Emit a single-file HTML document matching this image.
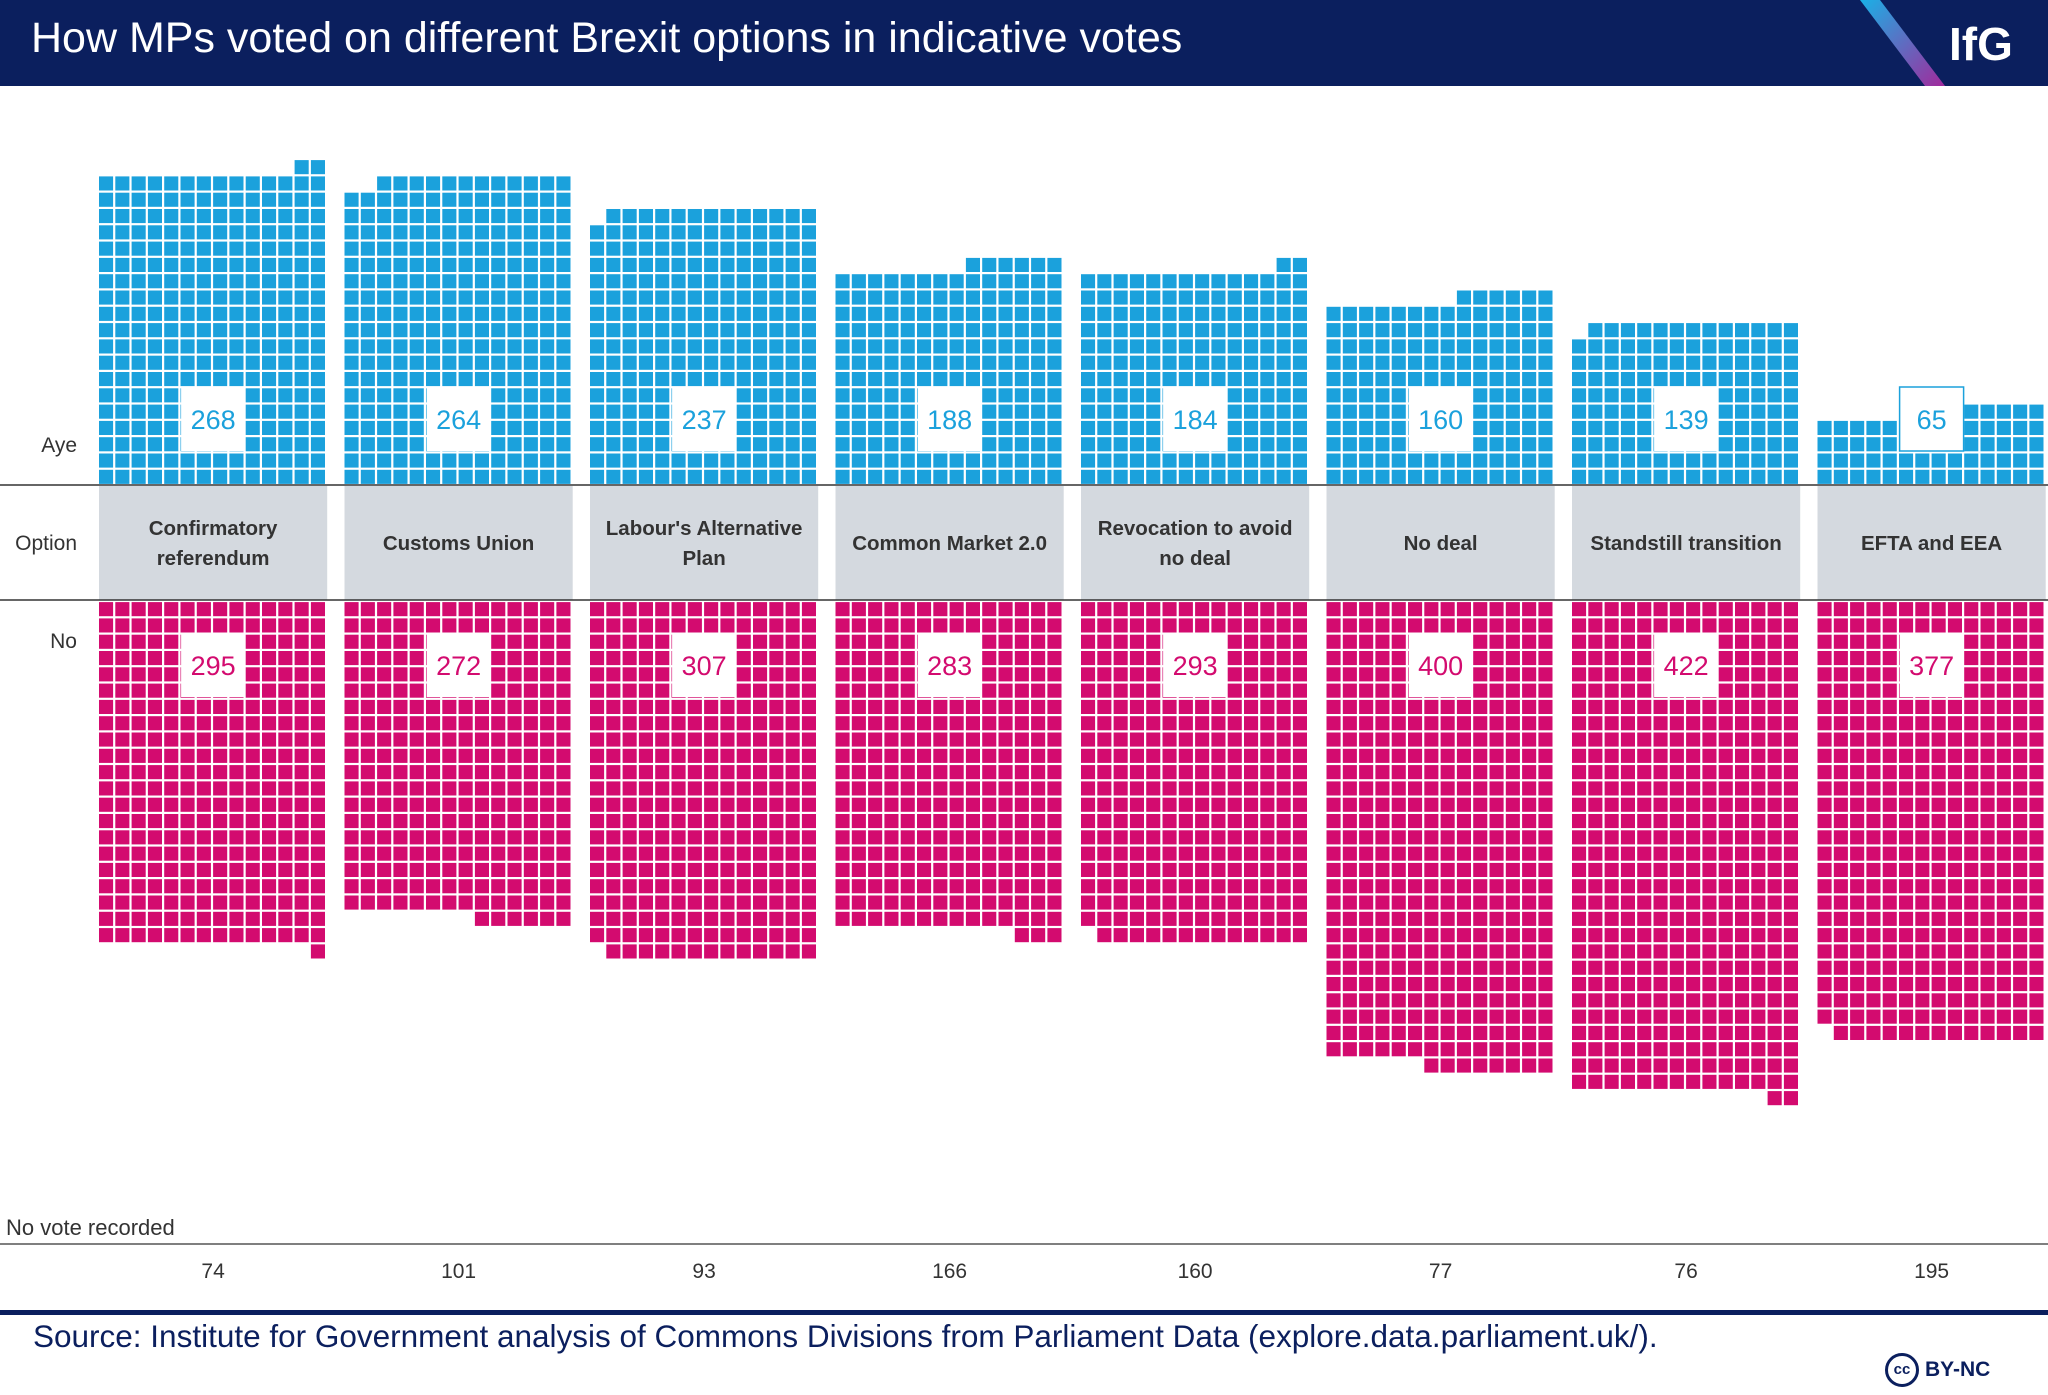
<!DOCTYPE html>
<html><head><meta charset="utf-8"><style>
body{margin:0;width:2048px;height:1395px;background:#fff;overflow:hidden;font-family:"Liberation Sans",sans-serif;position:relative}
.abs{position:absolute}
</style></head><body>
<div class="abs" style="left:0;top:0;width:2048px;height:86px;background:#0b1f5e;overflow:hidden">
  <div class="abs" style="left:31px;top:14px;color:#fff;font-size:43px;">How MPs voted on different Brexit options in indicative votes</div>
  <svg class="abs" style="left:1820px;top:0" width="228" height="86">
    <defs><linearGradient id="g" x1="0" y1="0" x2="1" y2="1"><stop offset="0" stop-color="#1ab0e6"/><stop offset="1" stop-color="#a12a9c"/></linearGradient></defs>
    <polygon points="40,0 60,0 125,86 105,86" fill="url(#g)"/>
    <text x="129" y="60" fill="#fff" font-size="46" font-weight="bold" font-family="Liberation Sans, sans-serif">IfG</text>
  </svg>
</div>
<svg id="chart" class="abs" style="left:0;top:0" width="2048" height="1395"></svg>
<div class="abs" style="left:6px;top:1215px;font-size:22px;color:#333">No vote recorded</div>
<div class="abs" style="left:0;top:1310px;width:2048px;height:5px;background:#0b1f5e"></div>
<div class="abs" style="left:33px;top:1318px;font-size:31.5px;color:#0b1f5e">Source: Institute for Government analysis of Commons Divisions from Parliament Data (explore.data.parliament.uk/).</div>
<div class="abs" style="left:1885px;top:1353px;font-size:21px;font-weight:bold;color:#0b1f5e;display:flex;align-items:center;gap:6px">
  <span style="display:inline-block;width:34px;height:34px;border:3px solid #0b1f5e;border-radius:50%;box-sizing:border-box;text-align:center;line-height:28px;font-size:15px">cc</span>BY-NC</div>
<script>
const categories=["Confirmatory referendum","Customs Union","Labour's Alternative Plan","Common Market 2.0","Revocation to avoid no deal","No deal","Standstill transition","EFTA and EEA"];
const catLines=[["Confirmatory","referendum"],["Customs Union"],["Labour's Alternative","Plan"],["Common Market 2.0"],["Revocation to avoid","no deal"],["No deal"],["Standstill transition"],["EFTA and EEA"]];
const ayes=[268,264,237,188,184,160,139,65];
const noes=[295,272,307,283,293,400,422,377];
const noVote=[74,101,93,166,160,77,76,195];
const svg=document.getElementById('chart');
const NS='http://www.w3.org/2000/svg';
const PER=14,PITCH=16.3,GAP=2.2,COLW=PER*PITCH,X0=99,STEP=245.5,AYE_BASE=485,NO_TOP=601;
const BLUE='#1ba1dc',PINK='#d30b6f';
function colX(i){return X0+i*STEP;}
function mk(tag,attrs){const e=document.createElementNS(NS,tag);for(const k in attrs)e.setAttribute(k,attrs[k]);svg.appendChild(e);return e;}
function txt(x,y,s,size,fill,anchor,weight){const t=mk('text',{x:x,y:y,'font-size':size,fill:fill,'text-anchor':anchor,'font-weight':weight||'normal','font-family':'Liberation Sans, sans-serif'});t.textContent=s;return t;}
categories.forEach((c,i)=>{
  const x=colX(i);
  const r=mk('rect',{x:x,y:486,width:COLW,height:114,fill:'#d4d9df'});
  
  
  const lines=catLines[i];
  lines.forEach((l,k)=>{
    const y=550+(k-(lines.length-1)/2)*30;
    const t=txt(x+COLW/2,y,l,20.5,'#333','middle','bold');
    
    
  });
  const a=ayes[i];
  for(let n=0;n<a;n++){
    const row=Math.floor(n/PER);let col=n%PER;
    const fullRows=Math.floor(a/PER);
    if(row===fullRows){col=PER-(a%PER)+col;}
    const s=mk('rect',{x:x+col*PITCH,y:AYE_BASE-(row+1)*PITCH+GAP/2,width:PITCH-GAP,height:PITCH-GAP,fill:BLUE});
    
    
  }
  const nn=noes[i];
  for(let n=0;n<nn;n++){
    const row=Math.floor(n/PER);let col=n%PER;
    const fullRows=Math.floor(nn/PER);
    if(row===fullRows){col=PER-(nn%PER)+col;}
    const s=mk('rect',{x:x+col*PITCH,y:NO_TOP+row*PITCH+GAP/2,width:PITCH-GAP,height:PITCH-GAP,fill:PINK});
    
    
  }
  const cx=x+COLW/2;
  const b1=mk('rect',{x:cx-32,y:387,width:64,height:64,fill:'#fff',stroke:i===7?BLUE:'none','stroke-width':1.5});
  
  
  const t1=txt(cx,429,String(a),27,BLUE,'middle');
  
  
  const b2=mk('rect',{x:cx-32,y:633,width:64,height:64,fill:'#fff'});
  
  
  const t2=txt(cx,675,String(nn),27,PINK,'middle');
  
  
  const t3=txt(cx,1278,String(noVote[i]),21,'#333','middle');
  
  
});
[485,600].forEach(y=>{const l=mk('line',{x1:0,x2:2048,y1:y,y2:y,stroke:'#333','stroke-width':1.5});

});
const nl=mk('line',{x1:0,x2:2048,y1:1244,y2:1244,stroke:'#555','stroke-width':1.5});


[['Aye',452],['Option',550],['No',648]].forEach(([s,y])=>{const t=txt(77,y,s,21,'#333','end');

});
</script>
</body></html>
